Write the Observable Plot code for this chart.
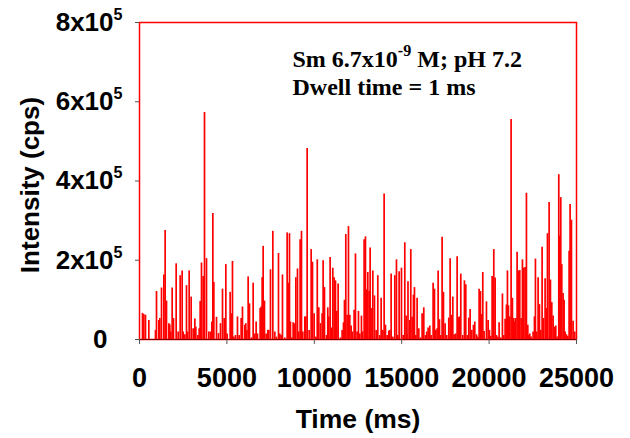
<!DOCTYPE html>
<html><head><meta charset="utf-8">
<script src="https://cdn.jsdelivr.net/npm/d3@7"></script>
<script src="https://cdn.jsdelivr.net/npm/@observablehq/plot@0.6"></script>
<style>body{margin:0;background:#fff}</style>
</head><body><div id="chart"></div>
<script>
// Spike times (ms) and intensities (x10^5 cps)
const time_ms = [
172,248,343,534,915,973,1106,1163,1259,1392,1468,1545,1678,1735,1793,1869,1945,2098,2212,2327,2441,2498,2594,2689,2746,2842,2956,3070,3166,3223,3337,3414,3471,3547,3642,3719,3833,3967,4062,4138,4196,4253,4405,4520,4634,4748,4844,4939,
5014,5186,5262,5319,5396,5491,5605,5701,5815,5891,6025,6082,6139,6216,6292,6406,6502,6597,6673,6750,6902,6959,7017,7074,7150,7245,7341,7398,7493,7627,7741,7837,7951,8027,8103,8180,8313,8447,8504,8580,8637,8714,8790,8847,8943,9038,9114,9190,9267,9343,9457,9514,9591,9705,9820,9896,9991,10087,
10170,10257,10353,10448,10505,10582,10696,10772,10830,10906,10982,11058,11135,11211,11287,11364,11497,11592,11669,11726,11802,11878,11955,12031,12107,12184,12279,12355,12451,12527,12603,12698,12756,12851,12927,12985,13061,13137,13194,13251,13347,13442,13538,13633,13747,13824,13919,13995,14071,14167,14262,14319,14396,14491,14605,14701,14777,14853,14987,15082,15177,15254,
15310,15360,15463,15520,15596,15672,15730,15806,15882,15978,16073,16168,16264,16359,16435,16512,16607,16683,16798,16874,16950,17026,17084,17160,17236,17312,17389,17484,17579,17694,17770,17846,17923,17999,18094,18171,18247,18323,18380,18495,18590,18666,18762,18838,18914,19010,19105,19181,19277,19353,19429,19505,19582,19639,19715,19849,19944,20020,20097,20173,20268,20345,20421,
20497,20573,20668,20763,20840,20916,20992,21049,21107,21183,21259,21335,21412,21469,21526,21602,21679,21755,21831,21907,21984,22060,22136,22213,22270,22327,22403,22518,22594,22651,22727,22804,22880,22956,23033,23109,23204,23281,23338,23433,23509,23586,23662,23738,23814,23891,23986,24043,24100,24158,24234,24291,24348,24425,24501,24577,24634,24711,24806,24901
];
const intensity_e5 = [
0.66,0.63,0.61,0.48,0.23,1.21,0.48,0.53,1.30,1.63,2.75,0.97,0.40,0.37,0.19,1.30,0.53,1.91,0.19,1.61,1.73,0.19,0.12,1.36,0.19,1.73,1.07,0.27,0.52,0.31,0.10,0.27,0.96,1.93,1.59,5.73,2.04,0.19,0.19,0.44,3.18,1.44,0.56,0.15,0.40,1.27,0.53,1.89,
0.14,1.19,0.65,1.97,0.06,0.10,0.57,0.10,0.53,0.82,0.36,0.40,0.23,1.58,0.90,0.04,1.42,0.14,0.44,0.14,0.78,0.82,1.56,2.35,0.97,0.14,0.23,0.23,1.76,2.73,0.19,0.06,2.17,0.14,0.10,1.63,0.04,2.69,1.42,2.67,0.44,0.04,0.42,0.40,1.56,1.78,0.19,2.52,2.73,0.19,0.57,0.57,4.82,0.23,2.27,1.95,0.65,0.06,
2.01,0.80,0.40,0.65,1.99,1.31,0.10,0.80,0.57,2.07,0.29,1.80,1.56,1.48,0.71,1.40,0.04,0.23,0.42,0.99,2.65,0.61,2.85,0.61,0.34,0.19,0.74,2.16,0.19,0.71,0.14,0.59,0.19,2.52,2.59,1.25,1.69,1.21,2.31,0.78,1.73,1.10,0.23,1.61,0.10,1.04,0.23,3.67,0.36,0.10,0.21,0.23,1.65,0.06,1.61,2.01,0.10,1.71,1.80,0.10,2.44,0.59,
0.12,1.46,0.48,2.27,0.56,1.12,1.31,0.10,1.04,0.27,0.04,0.65,0.80,0.10,0.19,0.29,0.34,0.10,1.42,1.27,0.23,0.27,1.73,0.50,0.10,2.58,1.19,0.40,0.10,0.54,2.04,0.61,1.07,0.12,0.14,2.09,0.56,0.57,1.65,0.10,1.48,1.38,0.10,0.54,0.76,0.23,0.36,0.44,0.12,0.06,1.27,1.21,0.63,1.69,0.20,0.95,0.48,0.23,0.08,1.59,2.27,1.55,0.10,
0.06,0.42,0.04,1.15,0.10,0.51,0.87,1.73,0.85,0.57,5.55,1.04,0.53,0.44,0.53,2.20,1.73,1.74,0.53,2.01,1.80,1.82,3.69,0.36,0.10,0.14,0.06,0.19,0.57,2.03,0.19,1.56,0.88,0.23,2.33,0.53,1.53,0.78,2.67,3.46,1.50,0.93,0.59,0.31,0.34,0.06,4.16,2.61,3.58,1.89,1.16,0.99,0.19,0.12,0.08,2.23,3.41,3.01,0.46,0.19
];
const xTicks = [0, 5000, 10000, 15000, 20000, 25000];
const yTicks = [0, 200000, 400000, 600000, 800000];
const yTickLabels = ["0", "2x10^5", "4x10^5", "6x10^5", "8x10^5"];
const xTitle = "Time (ms)";
const yTitle = "Intensity (cps)";
const noteLine1 = "Sm 6.7x10^-9 M; pH 7.2";
const noteLine2 = "Dwell time = 1 ms";

const data = time_ms.map((t, i) => ({t, v: intensity_e5[i] * 1e5}));
const yLabel = d => yTickLabels[yTicks.indexOf(d)];

const chart = Plot.plot({
  width: 630, height: 438,
  marginLeft: 139, marginRight: 54, marginTop: 22, marginBottom: 99,
  style: {fontFamily: "'Liberation Sans', Arial, sans-serif", fontWeight: "bold", fontSize: "26px", background: "#fff", color: "#000", overflow: "visible"},
  x: {domain: [0, 25000]},
  y: {domain: [0, 800000]},
  marks: [
    Plot.ruleX(data, {x: "t", y1: 0, y2: "v", stroke: "#ff0000", strokeWidth: 1.7}),
    Plot.frame({stroke: "#ff0000", strokeWidth: 1.5}),
    Plot.ruleY([0], {stroke: "#7a0000", strokeWidth: 1.2}),
    Plot.axisX({ticks: xTicks, tickFormat: d => String(d), tickSize: 5, tickPadding: 23, label: null, stroke: "#555", fontSize: 27}),
    Plot.axisY({ticks: yTicks.slice(0, 1), tickFormat: yLabel, tickSize: 4, tickPadding: 28, label: null, stroke: "#555", fontSize: 26}),
    Plot.axisY({ticks: yTicks.slice(1), tickFormat: yLabel, tickSize: 4, tickPadding: 13, label: null, stroke: "#555", fontSize: 26}),
    Plot.text([xTitle], {frameAnchor: "bottom", lineAnchor: "top", dy: 70, fontSize: 26.5, fontWeight: "bold"}),
    Plot.text([yTitle], {frameAnchor: "left", textAnchor: "middle", rotate: -90, dx: -109, dy: 4, fontSize: 26, fontWeight: "bold"}),
    Plot.text([noteLine1], {frameAnchor: "top-left", textAnchor: "start", lineAnchor: "top", dx: 153, dy: 27, fontSize: 24, fontWeight: "bold", fontFamily: "'Liberation Serif', 'Times New Roman', serif"}),
    Plot.text([noteLine2], {frameAnchor: "top-left", textAnchor: "start", lineAnchor: "top", dx: 153, dy: 55, fontSize: 24, fontWeight: "bold", fontFamily: "'Liberation Serif', 'Times New Roman', serif"})
  ]
});

// render superscripts ("x10^5", "x10^-9") as real raised text
d3.select(chart).selectAll("text").each(function() {
  const el = d3.select(this);
  const s = this.textContent;
  const m = s.match(/^(.*?)\^(\S+)(.*)$/);
  if (!m) return;
  const fs = parseFloat(getComputedStyle(this).fontSize) || 26;
  this.textContent = "";
  el.append("tspan").text(m[1]);
  el.append("tspan").attr("dy", -0.42 * fs).attr("font-size", 0.62 * fs).text(m[2]);
  if (m[3]) el.append("tspan").attr("dy", 0.42 * fs).text(m[3]);
});

document.getElementById("chart").append(chart);
</script>
</body></html>
